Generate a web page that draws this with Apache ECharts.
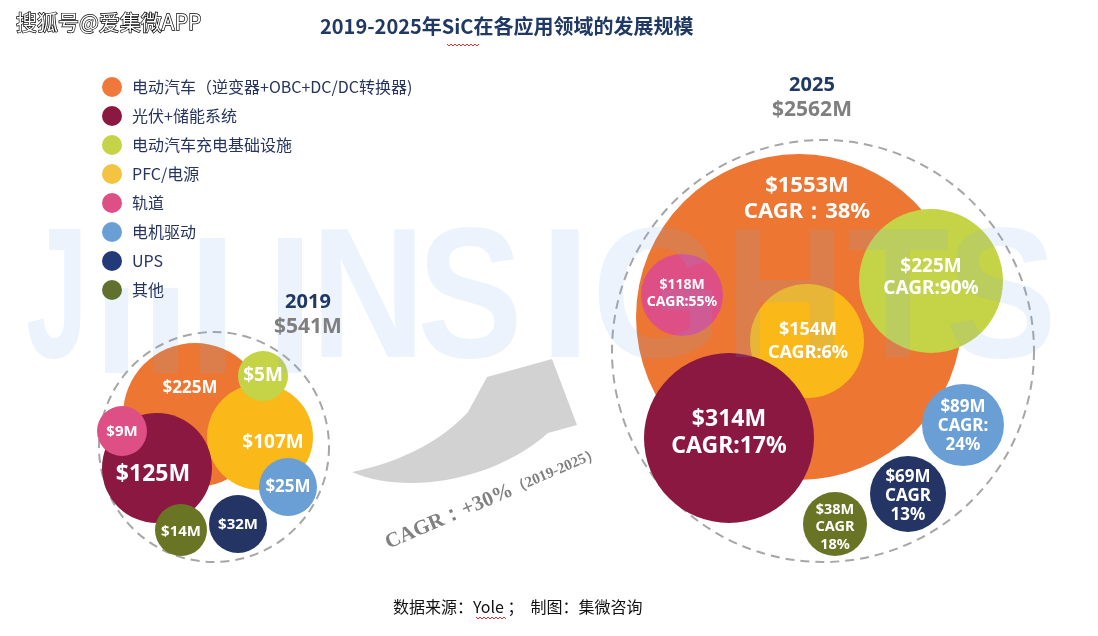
<!DOCTYPE html>
<html><head><meta charset="utf-8">
<script src="https://cdn.jsdelivr.net/npm/echarts@6/dist/echarts.min.js"></script>
<style>html,body{margin:0;padding:0;background:#fff}#c{width:1098px;height:636px}</style>
</head><body><div id="c"></div>
<script>
// ---------- DATA ----------
const categories = ['电动汽车（逆变器+OBC+DC/DC转换器)','光伏+储能系统','电动汽车充电基础设施','PFC/电源','轨道','电机驱动','UPS','其他'];
const years = ['2019','2025'];
const values2019 = [225,125,5,107,9,25,32,14];
const values2025 = [1553,314,225,154,118,89,69,38];
const cagr2025 = [38,17,90,6,55,24,13,18];
const totals = [541,2562];
const cagrTotal = 30;

// ---------- LAYOUT / STYLE (separate from data) ----------
const colors = ['#ED7632','#8A1840','#C5D346','#FAB819','#DE4F86','#6A9FD6','#233465','#697424'];
const legendColors = ['#F0783A','#8A1840','#C5D346','#F5C342','#DE4F86','#6A9FD6','#233A78','#62702E'];
// bubble layout: [x, y, radius] in chart pixels
const pos2019 = [[195,415,72],[157,468,55],[263,376,25],[260,437,53],[122,431,25],[288,487,29],[238,524,29],[181,530,26]];
const pos2025 = [[799,317,163],[729,438,85],[931,281,72],[807,341,57],[682,295,41],[963,425,41],[908,494,38],[835,524,32]];
const ringPos = [[214,447,115],[823,351,211]];
// label styles: [fontSize, dx, dy, lineHeight]
const lbl2019 = [[17,-5,-27,20],[23,-4,6,26],[19,0,0,22],[19,13,6,22],[15,0,1,18],[17,0,0,20],[15,0,1,18],[15,0,2,18]];
const lbl2025 = [[22,8,-118,26],[23,0,-5,27],[19,0,-3,22],[18,1,0,23],[14,0,-1,17],[17,0,1,19],[17,0,2,19],[14.5,0,3,17.5]];
const cagrSep = ['：',':',':',':',':',':\n','\n','\n'];
const ringLabelOffset = [[94,-132],[-11,-253]];
const drawOrder = [0,3,1,2,4,5,6,7];

const chart = echarts.init(document.getElementById('c'));

const series = [];
// dashed total rings
series.push({
  type:'scatter', name:'total', silent:true, z:1,
  data: ringPos.map((p,k)=>({ value:[p[0],p[1],totals[k]], symbolSize:p[2]*2 })),
  itemStyle:{color:'rgba(0,0,0,0)', borderColor:'#A6A6A6', borderWidth:2, borderType:[9,6], opacity:1}
});
// ring titles (year + total), drawn above the watermark
series.push({
  type:'scatter', name:'totalLabel', silent:true, z:4, symbolSize:1, itemStyle:{color:'rgba(0,0,0,0)', opacity:1},
  data: ringPos.map((p,k)=>({
    value:[p[0],p[1],totals[k]],
    label:{show:true, position:'inside', offset:ringLabelOffset[k],
      formatter:()=>'{y|'+years[k]+'}\n{v|$'+totals[k]+'M}',
      rich:{y:{fontSize:20,fontWeight:'bold',color:'#1F3864',fontFamily:'Noto Sans',lineHeight:25},
            v:{fontSize:21,fontWeight:'bold',color:'#7F7F7F',fontFamily:'Noto Sans',lineHeight:25}}}
  }))
});

// bubbles
drawOrder.forEach(i=>{
  series.push({
    type:'scatter', name:categories[i], z:2, silent:true,
    itemStyle:{color:colors[i], opacity:1},
    data:[
      {value:[pos2019[i][0],pos2019[i][1],values2019[i]], symbolSize:pos2019[i][2]*2},
      {value:[pos2025[i][0],pos2025[i][1],values2025[i]], symbolSize:pos2025[i][2]*2}
    ]
  });
});
// bubble value labels, above the watermark
const mkLbl = (p, L, val, fmt)=>({
  value:[p[0],p[1],val],
  label:{show:true, position:'inside', offset:[L[1],L[2]], fontSize:L[0], lineHeight:L[3],
    color:'#fff', fontWeight:'bold', fontFamily:'Noto Sans', align:'center', formatter:fmt}
});
const lblData = [];
categories.forEach((c,i)=>{
  lblData.push(mkLbl(pos2019[i], lbl2019[i], values2019[i], ()=>'$'+values2019[i]+'M'));
  lblData.push(mkLbl(pos2025[i], lbl2025[i], values2025[i], ()=>'$'+values2025[i]+'M\nCAGR'+cagrSep[i]+cagr2025[i]+'%'));
});
series.push({type:'scatter', name:'valueLabel', silent:true, z:4, symbolSize:1, itemStyle:{color:'rgba(0,0,0,0)', opacity:1}, data:lblData});

// growth arrow outline (decoration) sampled from bezier curves
function bez(p0,p1,p2,p3,n){const o=[];for(let k=0;k<=n;k++){const t=k/n,u=1-t;o.push([u*u*u*p0[0]+3*u*u*t*p1[0]+3*u*t*t*p2[0]+t*t*t*p3[0],u*u*u*p0[1]+3*u*u*t*p1[1]+3*u*t*t*p2[1]+t*t*t*p3[1]]);}return o;}
const arrowPts = [].concat(
  bez([352,472],[400,494],[490,484],[548,433],24),
  [[577,425],[552,359],[487,377]],
  bez([468,412],[440,442],[400,462],[352,472],24)
);

const wmFill = 'rgba(120,170,240,0.14)';
const wmFont = 'bold 186px "Liberation Sans Narrow", "Liberation Sans", sans-serif';
const wmLetters = [['J',57,0.6],['N',368,0.85],['S',470,0.85],['I',565,1],['G',657,0.9],['H',785,0.9],['T',898,0.9],['S',1001,0.9]];
const wmBars = [[105,288,23,85],[153,288,25,85],[200,238,25,135],[278,238,24,135]];

const graphic = [
  {type:'polygon', z:0, shape:{points:arrowPts}, style:{fill:'#D2D2D2'}},
  {type:'text', z:0, x:493, y:498, rotation:0.405,
   style:{text:'{a|CAGR：+' + cagrTotal + '%}{b|（' + years[0] + '-' + years[1] + '）}', align:'center', verticalAlign:'middle',
     rich:{a:{fontSize:21,fontWeight:'bold',fill:'#808080',fontFamily:'Liberation Serif'},
           b:{fontSize:15,fontWeight:'bold',fill:'#808080',fontFamily:'Liberation Serif'}}}},
  {type:'text', z:10, x:16, y:22, style:{text:'搜狐号@爱集微APP', font:'21px "Noto Sans CJK SC"', fill:'#fff', stroke:'#000', lineWidth:1.4, verticalAlign:'middle'}},
  {type:'text', z:10, x:393, y:607, style:{text:'数据来源：Yole ；  制图：集微咨询', font:'16px "Noto Sans CJK SC"', fill:'#111', verticalAlign:'middle'}},
  {type:'polyline', z:10, shape:{points:[[447,44],[449,46],[451,44],[453,46],[455,44],[457,46],[459,44],[461,46],[463,44],[465,46],[467,44],[469,46],[471,44],[473,46],[475,44],[477,46],[479,44]]}, style:{stroke:'#E03030',lineWidth:1,fill:null}},
  {type:'polyline', z:10, shape:{points:[[476,617],[478,619],[480,617],[482,619],[484,617],[486,619],[488,617],[490,619],[492,617],[494,619],[496,617],[498,619],[500,617],[502,619],[504,617],[506,619]]}, style:{stroke:'#E03030',lineWidth:1,fill:null}}
];
wmLetters.forEach(l=>graphic.push({type:'text', z:3, x:l[1], y:306, scaleX:l[2], style:{text:l[0], font:wmFont, fill:wmFill, align:'center', verticalAlign:'middle'}}));
wmBars.forEach(b=>graphic.push({type:'rect', z:3, shape:{x:b[0],y:b[1],width:b[2],height:b[3]}, style:{fill:wmFill}}));

chart.setOption({
  animation:false,
  backgroundColor:'#fff',
  title:{text:'2019-2025年SiC在各应用领域的发展规模', left:320, top:16, padding:0,
    textStyle:{fontSize:20, fontWeight:'bold', color:'#1F3864', fontFamily:'"Noto Sans CJK SC"'}},
  legend:{
    orient:'vertical', left:102, top:77, padding:0, itemWidth:20, itemHeight:20, itemGap:9, icon:'circle', selectedMode:false,
    data:categories.map((c,i)=>({name:c, itemStyle:{color:legendColors[i], opacity:1}})),
    textStyle:{fontSize:16, color:'#26345F', fontFamily:'"Noto Sans CJK SC"', padding:[0,0,0,5]}
  },
  grid:{left:0,right:0,top:0,bottom:0},
  xAxis:{type:'value', min:0, max:1098, show:false},
  yAxis:{type:'value', min:0, max:636, inverse:true, show:false},
  graphic:graphic,
  series:series
});
</script></body></html>
